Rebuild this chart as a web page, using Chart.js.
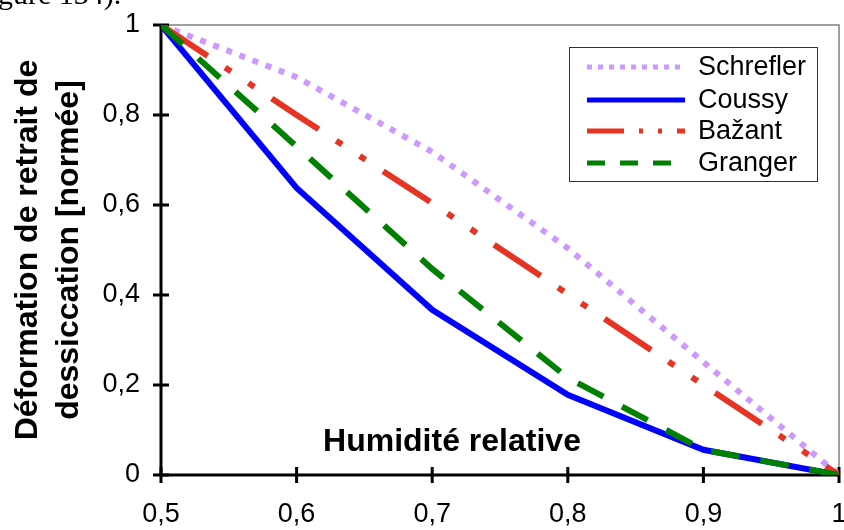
<!DOCTYPE html>
<html>
<head>
<meta charset="utf-8">
<script src="https://cdn.jsdelivr.net/npm/chart.js@4.4.1/dist/chart.umd.min.js"></script>
<style>
  html, body { margin: 0; padding: 0; background: #fff; overflow: hidden; }
  #wrap { position: relative; width: 844px; height: 530px; }
  #frag { position: absolute; left: -2px; top: -21px; font: 30px "Liberation Serif", "Times New Roman", serif; line-height: 30px; color: #000; white-space: nowrap; }
</style>
</head>
<body>
<div id="wrap">
  <canvas id="c" width="844" height="530"></canvas>
  <div id="frag">gure 134).</div>
</div>
<script>
// ---- data ----
const humidity = [0.5, 0.6, 0.7, 0.8, 0.9, 1.0];
const schrefler = [1, 0.884, 0.718, 0.504, 0.251, 0];
const coussy = [1, 0.638, 0.367, 0.178, 0.056, 0];
const bazant = [1, 0.800, 0.604, 0.402, 0.200, 0];
const granger = [1, 0.730, 0.458, 0.216, 0.056, 0];
const seriesNames = ['Schrefler', 'Coussy', 'Bažant', 'Granger'];
const xTicks = [0.5, 0.6, 0.7, 0.8, 0.9, 1.0];
const yTicks = [0, 0.2, 0.4, 0.6, 0.8, 1.0];
const xTitle = 'Humidité relative';
const yTitleLines = ['Déformation de retrait de', 'dessiccation [normée]'];

const FONT = '"Liberation Sans", Arial, Helvetica, sans-serif';
const fmt = v => { const r = Math.round(v * 10) / 10; return r === 1 || r === 0 ? String(r) : String(r).replace('.', ','); };
const pts = arr => humidity.map((x, i) => ({ x: x, y: arr[i] }));

const datasets = [
  { label: seriesNames[0], data: pts(schrefler), borderColor: '#CC99FF', borderWidth: 6, borderDash: [6, 8], legendDash: [5, 6], order: 4 },
  { label: seriesNames[1], data: pts(coussy), borderColor: '#0000FF', borderWidth: 6, borderDash: [], legendDash: [], order: 3 },
  { label: seriesNames[2], data: pts(bazant), borderColor: '#E63323', borderWidth: 6, borderDash: [56, 21, 7, 21, 7, 21], legendDash: [37, 15, 4, 15, 4, 15], order: 2 },
  { label: seriesNames[3], data: pts(granger), borderColor: '#008000', borderWidth: 6, borderDash: [29, 21], legendDash: [18, 15], order: 1 }
].map(d => Object.assign(d, { fill: false, tension: 0, pointRadius: 0, borderCapStyle: 'butt', borderJoinStyle: 'miter' }));

const decorPlugin = {
  id: 'decor',
  beforeDatasetsDraw(chart) {
    const ctx = chart.ctx, a = chart.chartArea, xs = chart.scales.x, ys = chart.scales.y;
    ctx.save();
    ctx.strokeStyle = '#808080'; ctx.lineWidth = 1.5;
    ctx.beginPath();
    ctx.moveTo(a.left, a.top); ctx.lineTo(a.right, a.top); ctx.lineTo(a.right, a.bottom);
    ctx.stroke();
    ctx.strokeStyle = '#000'; ctx.lineWidth = 3;
    ctx.beginPath();
    ctx.moveTo(a.left, a.top - 1); ctx.lineTo(a.left, a.bottom); ctx.lineTo(a.right, a.bottom);
    ctx.stroke();
    yTicks.forEach(v => {
      const y = ys.getPixelForValue(v);
      ctx.beginPath(); ctx.moveTo(a.left - 8, y); ctx.lineTo(a.left + 8, y); ctx.stroke();
    });
    xTicks.forEach(v => {
      const x = xs.getPixelForValue(v);
      ctx.beginPath(); ctx.moveTo(x, a.bottom - 8); ctx.lineTo(x, a.bottom + 8); ctx.stroke();
    });
    ctx.restore();
  },
  afterDraw(chart) {
    const ctx = chart.ctx;
    ctx.save();
    ctx.fillStyle = '#000';
    ctx.font = 'bold 32px ' + FONT;
    ctx.textAlign = 'center'; ctx.textBaseline = 'middle';
    ctx.fillText(xTitle, 452, 442);
    ctx.translate(0, 250);
    ctx.rotate(-Math.PI / 2);
    ctx.textBaseline = 'alphabetic';
    ctx.fillText(yTitleLines[0], 0, 37);
    ctx.fillText(yTitleLines[1], 0, 78);
    ctx.restore();

    ctx.save();
    const box = { x: 569, y: 47, w: 248, h: 134 };
    ctx.fillStyle = '#fff';
    ctx.fillRect(box.x, box.y, box.w, box.h);
    ctx.strokeStyle = '#333'; ctx.lineWidth = 1;
    ctx.strokeRect(box.x + 0.5, box.y + 0.5, box.w, box.h);
    const rows = [67, 100, 131, 163];
    chart.data.datasets.forEach((d, i) => {
      const y = rows[i];
      ctx.strokeStyle = d.borderColor; ctx.lineWidth = 5;
      ctx.setLineDash(d.legendDash || []);
      ctx.lineCap = 'butt';
      ctx.beginPath(); ctx.moveTo(587, y); ctx.lineTo(685, y); ctx.stroke();
      ctx.setLineDash([]);
      ctx.fillStyle = '#000';
      ctx.font = '27px ' + FONT;
      ctx.textAlign = 'left'; ctx.textBaseline = 'middle';
      ctx.fillText(d.label, 698, y + 1);
    });
    ctx.restore();
  }
};

new Chart(document.getElementById('c'), {
  type: 'line',
  data: { datasets: datasets },
  options: {
    responsive: false,
    animation: false,
    devicePixelRatio: 1,
    layout: { padding: { top: 25, right: 5, left: 0, bottom: 0 } },
    plugins: { legend: { display: false }, tooltip: { enabled: false } },
    scales: {
      x: {
        type: 'linear', min: 0.5, max: 1.0,
        afterBuildTicks: s => { s.ticks = xTicks.map(v => ({ value: v })); },
        afterFit: s => { s.height = 55; s.paddingLeft = 0; s.paddingRight = 0; },
        grid: { display: false, drawTicks: false },
        border: { display: false },
        ticks: { color: '#000', font: { family: FONT, size: 27 }, padding: 23, maxRotation: 0, autoSkip: false, callback: v => fmt(v) }
      },
      y: {
        type: 'linear', min: 0, max: 1.0,
        afterBuildTicks: s => { s.ticks = yTicks.map(v => ({ value: v })); },
        afterFit: s => { s.width = 161; s.paddingTop = 0; s.paddingBottom = 0; },
        grid: { display: false, drawTicks: false },
        border: { display: false },
        ticks: { color: '#000', font: { family: FONT, size: 27 }, padding: 21, autoSkip: false, callback: v => fmt(v) }
      }
    }
  },
  plugins: [decorPlugin]
});
</script>
</body>
</html>
